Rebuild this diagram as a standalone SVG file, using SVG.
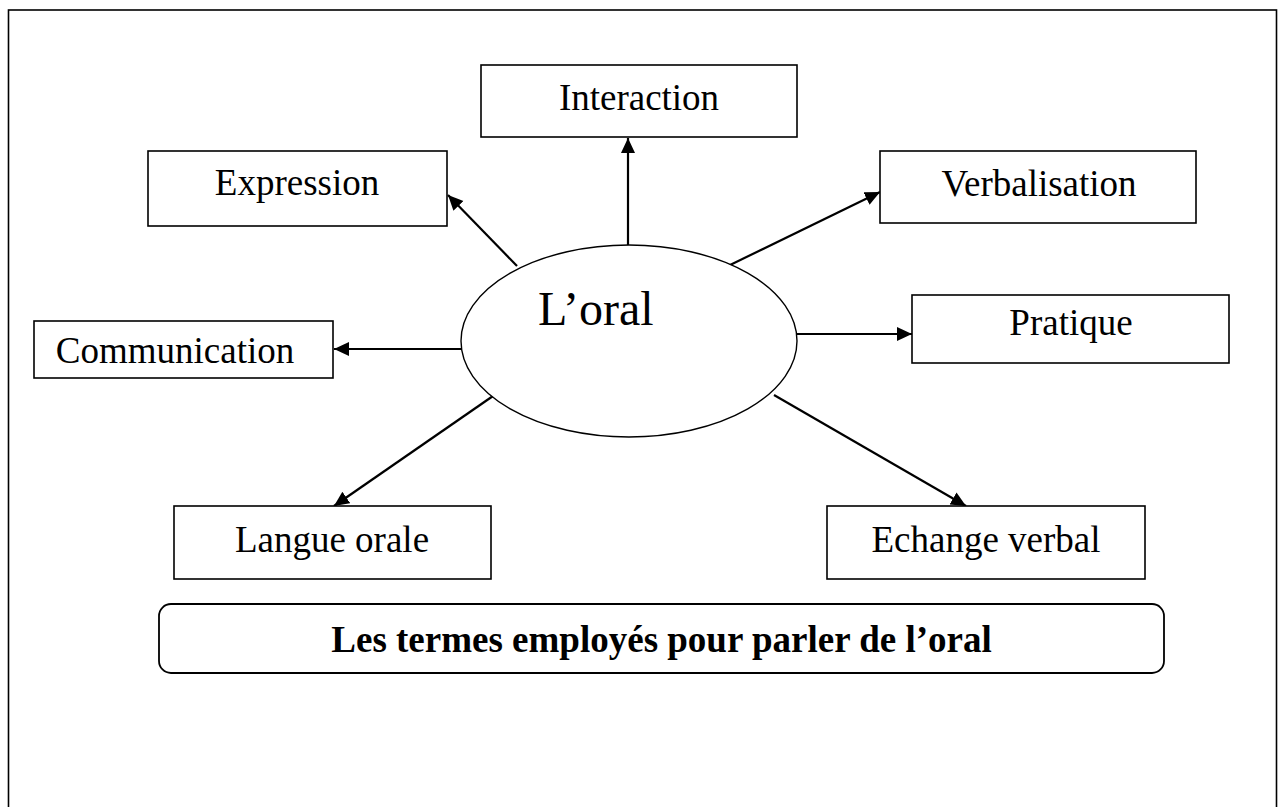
<svg xmlns="http://www.w3.org/2000/svg" width="1285" height="807" viewBox="0 0 1285 807">
<style>
.box{fill:#fff;stroke:#000;stroke-width:1.6}
.lbl{font-family:"Liberation Serif","Times New Roman",serif;font-size:37px;fill:#000;text-anchor:middle}
.con{stroke:#000;stroke-width:2.2;fill:none;marker-end:url(#ah)}
</style>
<defs>
<marker id="ah" markerUnits="userSpaceOnUse" markerWidth="16" markerHeight="16" refX="15" refY="7" orient="auto">
<path d="M0,0 L15,7 L0,14 Z" fill="#000"/>
</marker>
</defs>
<rect width="1285" height="807" fill="#fff"/>
<rect x="8.5" y="10" width="1268" height="830" fill="none" stroke="#000" stroke-width="1.6"/>
<g id="connectors">
<line class="con" x1="628" y1="245" x2="628" y2="138"/>
<line class="con" x1="517" y1="266" x2="448" y2="195"/>
<line class="con" x1="728" y1="266" x2="880" y2="192"/>
<line class="con" x1="797" y1="334" x2="912" y2="334"/>
<line class="con" x1="461" y1="349" x2="334" y2="349"/>
<line class="con" x1="493" y1="396" x2="334" y2="506"/>
<line class="con" x1="774" y1="395" x2="966" y2="506"/>
</g>
<g id="center">
<ellipse cx="629" cy="341" rx="168" ry="96" fill="#fff" stroke="#000" stroke-width="1.4"/>
<text x="538" y="325" font-family="Liberation Serif,'Times New Roman',serif" font-size="48" fill="#000">L’oral</text>
</g>
<g id="interaction">
<rect class="box" x="481" y="65" width="316" height="72"/>
<text class="lbl" x="639" y="110">Interaction</text>
</g>
<g id="expression">
<rect class="box" x="148" y="151" width="299" height="75"/>
<text class="lbl" x="297" y="195">Expression</text>
</g>
<g id="verbalisation">
<rect class="box" x="880" y="151" width="316" height="72"/>
<text class="lbl" x="1039" y="196">Verbalisation</text>
</g>
<g id="pratique">
<rect class="box" x="912" y="295" width="317" height="68"/>
<text class="lbl" x="1071" y="335">Pratique</text>
</g>
<g id="communication">
<rect class="box" x="34" y="321" width="299" height="57"/>
<text class="lbl" x="175" y="363">Communication</text>
</g>
<g id="langue-orale">
<rect class="box" x="174" y="506" width="317" height="73"/>
<text class="lbl" x="332" y="552">Langue orale</text>
</g>
<g id="echange-verbal">
<rect class="box" x="827" y="506" width="318" height="73"/>
<text class="lbl" x="986" y="552">Echange verbal</text>
</g>
<g id="title">
<rect x="159" y="604" width="1005" height="69" rx="12" ry="12" fill="#fff" stroke="#000" stroke-width="1.8"/>
<text class="lbl" x="661.5" y="652" font-weight="bold">Les termes employés pour parler de l’oral</text>
</g>
</svg>
